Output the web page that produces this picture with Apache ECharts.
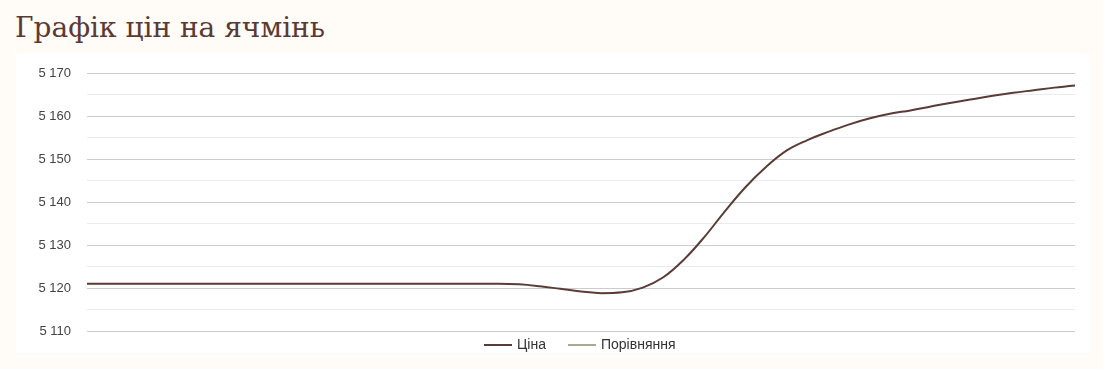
<!DOCTYPE html>
<html>
<head>
<meta charset="utf-8">
<script src="https://cdn.jsdelivr.net/npm/echarts@6/dist/echarts.min.js"></script>
<style>
html,body{margin:0;padding:0;background:#fffbf7;width:1103px;height:369px;overflow:hidden;}
#title{position:absolute;left:15px;top:11px;font-family:"DejaVu Serif",serif;font-size:28px;color:#5a3a33;white-space:nowrap;}
#chart{position:absolute;left:15px;top:53px;width:1075px;height:300px;background:#ffffff;}
</style>
</head>
<body>
<div id="title">Графік цін на ячмінь</div>
<div id="chart"></div>
<script>
const categories = [];
for (let d = 1; d <= 49; d++) categories.push(String(d));
const priceValues = [
  5121,5121,5121,5121,5121,5121,5121,5121,5121,5121,
  5121,5121,5121,5121,5121,5121,5121,5121,5121,5121,
  5121.0,5120.85,5120.4,5119.8,5119.2,5118.8,5119.0,5120.1,5122.5,5126.6,
  5131.9,5137.9,5143.5,5148.2,5152.0,5154.4,5156.3,5158.0,5159.4,5160.5,
  5161.3,5162.2,5163.1,5163.9,5164.7,5165.4,5166.0,5166.6,5167.1
];
const comparisonValues = [];
const seriesNames = ["Ціна","Порівняння"];

const chart = echarts.init(document.getElementById('chart'));
chart.setOption({
  animation:false,
  grid:{left:72,right:15,top:20,bottom:22},
  legend:{
    data:seriesNames,
    top:280,
    left:464,
    itemWidth:28,
    itemHeight:2,
    itemGap:22,
    icon:'rect',
    textStyle:{fontFamily:'Liberation Sans, Arial, sans-serif',fontSize:14,color:'#333'}
  },
  xAxis:{
    type:'category',
    data:categories,
    boundaryGap:false,
    axisLine:{show:false},
    axisTick:{show:false},
    axisLabel:{show:false},
    splitLine:{show:false}
  },
  yAxis:{
    type:'value',
    min:5110,
    max:5170,
    interval:10,
    axisLine:{show:false},
    axisTick:{show:false},
    axisLabel:{
      margin:16,
      fontFamily:'Liberation Sans, Arial, sans-serif',
      fontSize:13,
      color:'#444',
      formatter:function(v){return String(v).replace(/\B(?=(\d{3})+(?!\d))/g,' ');}
    },
    splitLine:{lineStyle:{color:'#cccccc',width:1}},
    minorTick:{show:false,splitNumber:2},
    minorSplitLine:{show:true,lineStyle:{color:'#ebebeb',width:1}}
  },
  series:[
    {name:seriesNames[0],type:'line',data:priceValues,smooth:0.4,showSymbol:false,symbol:'none',
     lineStyle:{color:'#5b3b35',width:2},itemStyle:{color:'#5b3b35'}},
    {name:seriesNames[1],type:'line',data:comparisonValues,showSymbol:false,symbol:'none',
     lineStyle:{color:'#a9a993',width:2},itemStyle:{color:'#a9a993'}}
  ]
});
</script>
</body>
</html>
